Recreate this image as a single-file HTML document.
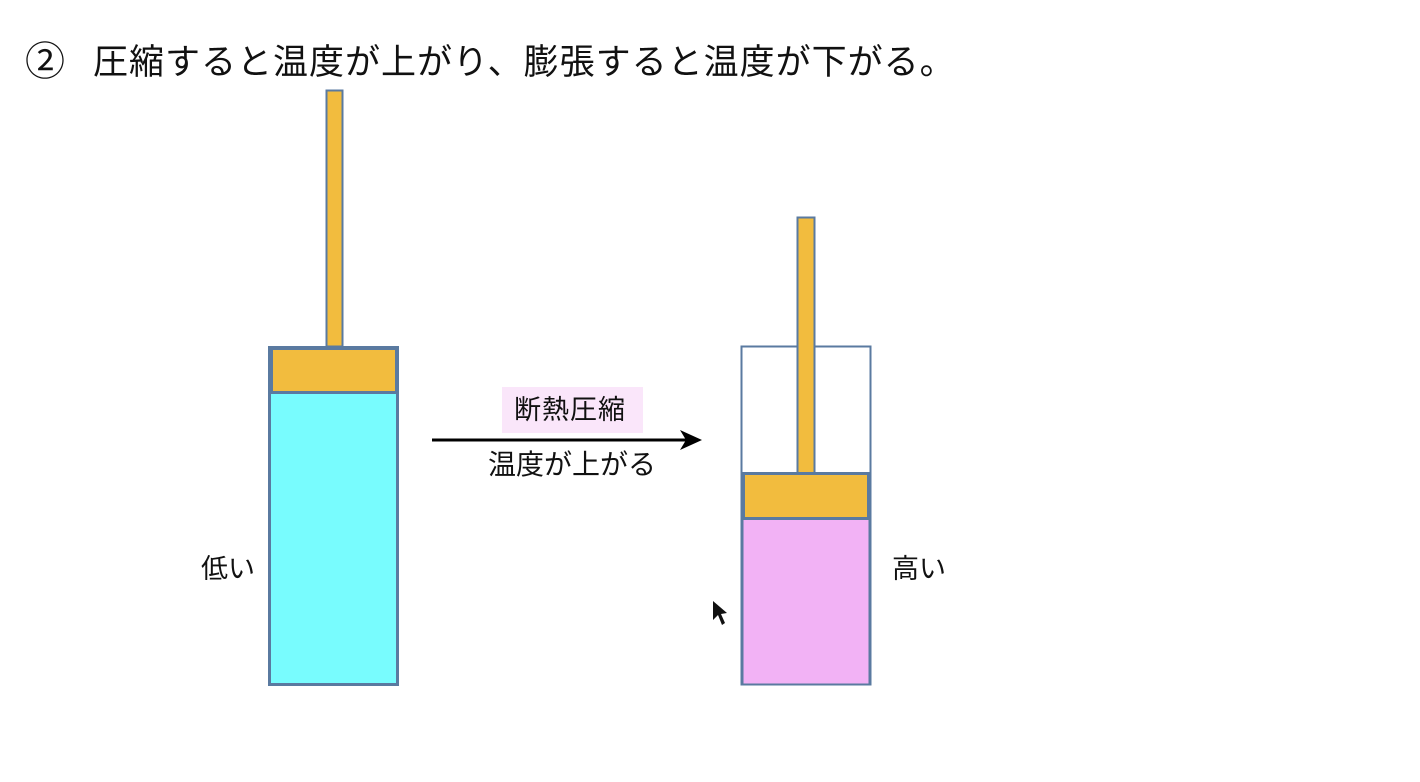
<!DOCTYPE html>
<html><head><meta charset="utf-8"><style>
body{margin:0;width:1420px;height:782px;background:#fff;overflow:hidden;position:relative;font-family:"Liberation Sans","Noto Sans CJK JP",sans-serif;color:#111}
.a{position:absolute;white-space:nowrap;line-height:1}
</style></head><body>
<div class="a" style="left:25px;top:42px;font-size:40px">②</div>
<div class="a" style="left:93px;top:45px;font-size:35px;letter-spacing:1px">圧縮すると温度が上がり、膨張すると温度が下がる。</div>
<svg width="1420" height="782" style="position:absolute;left:0;top:0">
<rect x="326.5" y="90.5" width="16" height="256" fill="#f2bc3e" stroke="#5a7aa0" stroke-width="2"/>
<rect x="269.5" y="347.5" width="128" height="337" fill="#78fcfe" stroke="#5a7aa0" stroke-width="3"/>
<rect x="271.5" y="348.5" width="125" height="44" fill="#f2bc3e" stroke="#5a7aa0" stroke-width="3"/>
<rect x="741.5" y="346.5" width="129" height="338" fill="#fff" stroke="#5a7aa0" stroke-width="2"/>
<rect x="742.5" y="518.5" width="127" height="166" fill="#f2b2f5" stroke="#5a7aa0" stroke-width="2"/>
<rect x="797.5" y="217.5" width="17" height="256" fill="#f2bc3e" stroke="#5a7aa0" stroke-width="2"/>
<rect x="743.5" y="473.5" width="125" height="45" fill="#f2bc3e" stroke="#5a7aa0" stroke-width="3"/>
<rect x="502" y="387" width="141" height="46" fill="#fae6fa"/>
<line x1="432" y1="440" x2="698" y2="440" stroke="#000" stroke-width="3"/>
<path d="M680 430 L702 440 L680 450 L686 440 Z" fill="#000"/>
<path d="M713 601 L713 620 L718 615 L722 625 L725 623 L721 614 L727 613 Z" fill="#111"/>
</svg>
<div class="a" style="left:514px;top:397px;font-size:27px;letter-spacing:1px">断熱圧縮</div>
<div class="a" style="left:488px;top:451px;font-size:28px">温度が上がる</div>
<div class="a" style="left:201px;top:556px;font-size:27px">低い</div>
<div class="a" style="left:892px;top:556px;font-size:27px">高い</div>
</body></html>
